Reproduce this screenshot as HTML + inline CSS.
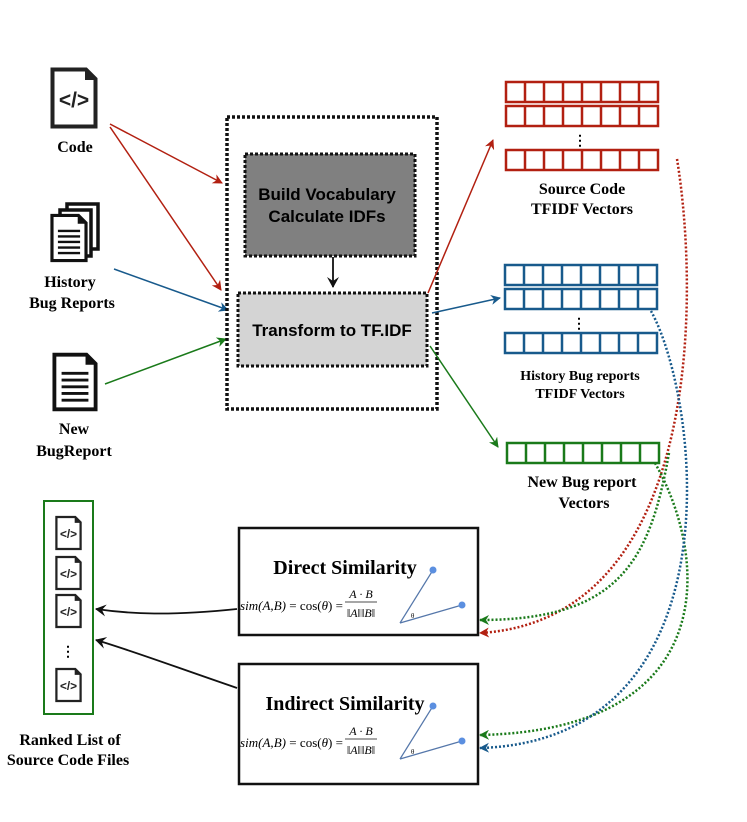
<!DOCTYPE html>
<html><head><meta charset="utf-8"><style>
body{margin:0;background:#fff;}
svg{display:block;font-family:"Liberation Serif",serif;}
.t{font-weight:bold;font-size:16px;text-anchor:middle;}
.s{font-family:"Liberation Sans",sans-serif;font-weight:bold;font-size:17px;text-anchor:middle;}
</style></head><body>
<svg width="747" height="822" viewBox="0 0 747 822" xmlns="http://www.w3.org/2000/svg">
<defs>
<marker id="ar" markerWidth="10" markerHeight="10" refX="9" refY="5" orient="auto" markerUnits="userSpaceOnUse"><path d="M0,0 L10,5 L0,10 L3,5z" fill="#b22011"/></marker>
<marker id="ab" markerWidth="10" markerHeight="10" refX="9" refY="5" orient="auto" markerUnits="userSpaceOnUse"><path d="M0,0 L10,5 L0,10 L3,5z" fill="#185a8c"/></marker>
<marker id="ag" markerWidth="10" markerHeight="10" refX="9" refY="5" orient="auto" markerUnits="userSpaceOnUse"><path d="M0,0 L10,5 L0,10 L3,5z" fill="#1a7a1a"/></marker>
<marker id="ak" markerWidth="12" markerHeight="12" refX="10" refY="6" orient="auto" markerUnits="userSpaceOnUse"><path d="M0,0 L11,6 L0,12 L4,6z" fill="#111"/></marker>
<symbol id="code" viewBox="0 0 48 62"><path d="M2.5,2.5 H36 L45.5,12 V59.5 H2.5z" fill="#fff" stroke="#222" stroke-width="4"/><path d="M35,2 V13 H46z" fill="#222"/><text x="24" y="40" font-family="Liberation Sans" font-weight="bold" font-size="21" text-anchor="middle" fill="#222">&lt;/&gt;</text></symbol>
<symbol id="doc" viewBox="0 0 48 62"><path d="M2.5,2.5 H36 L45.5,12 V59.5 H2.5z" fill="#fff" stroke="#111" stroke-width="4"/><path d="M35,2 V13 H46z" fill="#111"/><g stroke="#111" stroke-width="3"><line x1="10" y1="22" x2="38" y2="22"/><line x1="10" y1="29" x2="38" y2="29"/><line x1="10" y1="36" x2="38" y2="36"/><line x1="10" y1="43" x2="38" y2="43"/><line x1="10" y1="50" x2="38" y2="50"/></g></symbol>
</defs>

<use href="#code" x="50" y="67" width="48" height="62"/>
<text class="t" x="75" y="152">Code</text>
<g>
<rect x="67" y="204" width="31" height="45" fill="#fff" stroke="#111" stroke-width="3.5"/>
<rect x="60" y="210" width="31" height="46" fill="#fff" stroke="#111" stroke-width="3.5"/>
<use href="#doc" x="50" y="212" width="38" height="52"/>
</g>
<text class="t" x="70" y="287">History</text>
<text class="t" x="72" y="308">Bug Reports</text>
<use href="#doc" x="52" y="351" width="46" height="62"/>
<text class="t" x="74" y="434">New</text>
<text class="t" x="74" y="456">BugReport</text>

<line x1="110" y1="124" x2="222" y2="183" stroke="#b22011" stroke-width="1.5" marker-end="url(#ar)"/>
<line x1="110" y1="127" x2="221" y2="290" stroke="#b22011" stroke-width="1.5" marker-end="url(#ar)"/>
<line x1="114" y1="269" x2="228" y2="310" stroke="#185a8c" stroke-width="1.5" marker-end="url(#ab)"/>
<line x1="105" y1="384" x2="226" y2="339" stroke="#1a7a1a" stroke-width="1.5" marker-end="url(#ag)"/>

<rect x="227" y="117" width="210" height="292" fill="#fff" stroke="#111" stroke-width="3.5" stroke-dasharray="3,2"/>
<rect x="245" y="154" width="170" height="102" fill="#808080" stroke="#111" stroke-width="3" stroke-dasharray="3,2"/>
<text class="s" x="327" y="200">Build Vocabulary</text>
<text class="s" x="327" y="222">Calculate IDFs</text>
<line x1="333" y1="257" x2="333" y2="287" stroke="#111" stroke-width="1.8" marker-end="url(#ak)"/>
<rect x="238" y="293" width="189" height="73" fill="#d4d4d4" stroke="#111" stroke-width="3" stroke-dasharray="3,2"/>
<text class="s" x="332" y="336">Transform to TF.IDF</text>

<line x1="428" y1="293" x2="493" y2="140" stroke="#b22011" stroke-width="1.5" marker-end="url(#ar)"/>
<line x1="432" y1="313" x2="500" y2="298" stroke="#185a8c" stroke-width="1.5" marker-end="url(#ab)"/>
<line x1="430" y1="346" x2="498" y2="447" stroke="#1a7a1a" stroke-width="1.5" marker-end="url(#ag)"/>

<g fill="#fff" stroke-width="2.5">
<g stroke="#b22011">
<rect x="506" y="82" width="152" height="20"/><rect x="506" y="106" width="152" height="20"/><rect x="506" y="150" width="152" height="20"/>
<path d="M525,82V102M544,82V102M563,82V102M582,82V102M601,82V102M620,82V102M639,82V102 M525,106V126M544,106V126M563,106V126M582,106V126M601,106V126M620,106V126M639,106V126 M525,150V170M544,150V170M563,150V170M582,150V170M601,150V170M620,150V170M639,150V170"/>
</g>
<g stroke="#185a8c">
<rect x="505" y="265" width="152" height="20"/><rect x="505" y="289" width="152" height="20"/><rect x="505" y="333" width="152" height="20"/>
<path d="M524,265V285M543,265V285M562,265V285M581,265V285M600,265V285M619,265V285M638,265V285 M524,289V309M543,289V309M562,289V309M581,289V309M600,289V309M619,289V309M638,289V309 M524,333V353M543,333V353M562,333V353M581,333V353M600,333V353M619,333V353M638,333V353"/>
</g>
<g stroke="#1a7a1a">
<rect x="507" y="443" width="152" height="20"/>
<path d="M526,443V463M545,443V463M564,443V463M583,443V463M602,443V463M621,443V463M640,443V463"/>
</g>
</g>
<text x="580" y="145" font-size="14" font-weight="bold" text-anchor="middle">⋮</text>
<text x="579" y="328" font-size="14" font-weight="bold" text-anchor="middle">⋮</text>
<text class="t" x="582" y="194" font-size="15">Source Code</text>
<text class="t" x="582" y="214" font-size="15">TFIDF Vectors</text>
<text class="t" x="580" y="380" style="font-size:14px">History Bug reports</text>
<text class="t" x="580" y="398" style="font-size:14px">TFIDF Vectors</text>
<text class="t" x="582" y="487">New Bug report</text>
<text class="t" x="584" y="508">Vectors</text>

<g fill="none" stroke-width="2.5" stroke-dasharray="2,2">
<path d="M677,159 C700,300 700,620 480,633" stroke="#b22011" marker-end="url(#ar)"/>
<path d="M669,453 C650,560 620,620 480,620" stroke="#1a7a1a" marker-end="url(#ag)"/>
<path d="M655,463 C710,560 720,730 480,735" stroke="#1a7a1a" marker-end="url(#ag)"/>
<path d="M651,311 C700,400 740,740 480,748" stroke="#185a8c" marker-end="url(#ab)"/>
</g>

<g>
<rect x="239" y="528" width="239" height="107" fill="#fff" stroke="#111" stroke-width="2.5"/>
<text x="345" y="574" font-size="20" font-weight="bold" text-anchor="middle">Direct Similarity</text>
<text x="240" y="610" font-size="13" font-style="italic" textLength="103">sim(A,B) <tspan font-style="normal">= cos(</tspan>θ<tspan font-style="normal">) =</tspan></text>
<text x="361" y="598" font-size="12" font-style="italic" text-anchor="middle">A · B</text>
<line x1="345" y1="602" x2="377" y2="602" stroke="#111" stroke-width="0.8"/>
<text x="361" y="617" font-size="12" font-style="italic" text-anchor="middle">‖A‖‖B‖</text>
<g stroke="#5577aa" stroke-width="1.2"><line x1="400" y1="623" x2="433" y2="570"/><line x1="400" y1="623" x2="462" y2="605"/></g>
<circle cx="433" cy="570" r="3.5" fill="#5b8fe0"/><circle cx="462" cy="605" r="3.5" fill="#5b8fe0"/>
<text x="411" y="618" font-size="7">θ</text>
</g>
<g>
<rect x="239" y="664" width="239" height="120" fill="#fff" stroke="#111" stroke-width="2.5"/>
<text x="345" y="710" font-size="20" font-weight="bold" text-anchor="middle">Indirect Similarity</text>
<text x="240" y="747" font-size="13" font-style="italic" textLength="103">sim(A,B) <tspan font-style="normal">= cos(</tspan>θ<tspan font-style="normal">) =</tspan></text>
<text x="361" y="735" font-size="12" font-style="italic" text-anchor="middle">A · B</text>
<line x1="345" y1="739" x2="377" y2="739" stroke="#111" stroke-width="0.8"/>
<text x="361" y="754" font-size="12" font-style="italic" text-anchor="middle">‖A‖‖B‖</text>
<g stroke="#5577aa" stroke-width="1.2"><line x1="400" y1="759" x2="433" y2="706"/><line x1="400" y1="759" x2="462" y2="741"/></g>
<circle cx="433" cy="706" r="3.5" fill="#5b8fe0"/><circle cx="462" cy="741" r="3.5" fill="#5b8fe0"/>
<text x="411" y="754" font-size="7">θ</text>
</g>

<rect x="44" y="501" width="49" height="213" fill="#fff" stroke="#1a7a1a" stroke-width="2"/>
<use href="#code" x="55" y="515" width="27" height="36"/>
<use href="#code" x="55" y="555" width="27" height="36"/>
<use href="#code" x="55" y="593" width="27" height="36"/>
<text x="68" y="656" font-size="14" font-weight="bold" text-anchor="middle">⋮</text>
<use href="#code" x="55" y="667" width="27" height="36"/>
<text class="t" x="70" y="745" font-size="15">Ranked List of</text>
<text class="t" x="68" y="765" font-size="15">Source Code Files</text>

<path d="M237,609 C170,616 130,614 96,609" fill="none" stroke="#111" stroke-width="1.8" marker-end="url(#ak)"/>
<path d="M237,688 C170,665 130,650 96,640" fill="none" stroke="#111" stroke-width="1.8" marker-end="url(#ak)"/>
</svg>
</body></html>
